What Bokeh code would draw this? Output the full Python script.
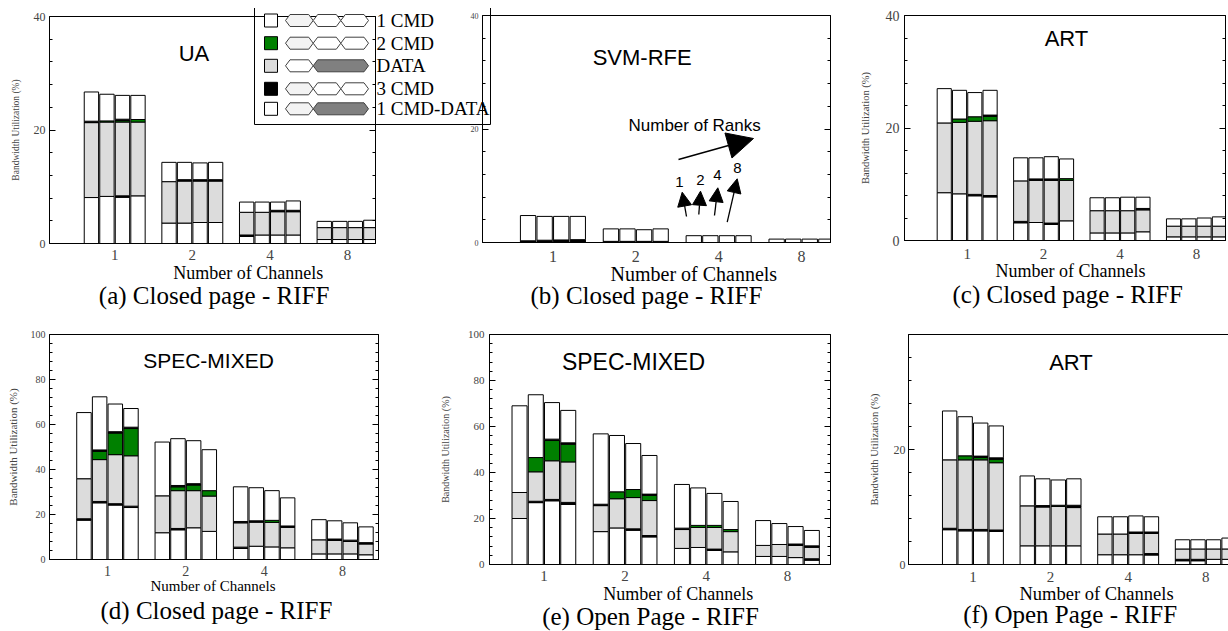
from bokeh.plotting import figure
from bokeh.layouts import column
from bokeh.models import (FixedTicker, LinearAxis, Label, Arrow, NormalHead,
                          Range1d, ColumnDataSource, Title)
from bokeh.embed import file_html
from bokeh.resources import INLINE
from bokeh.core.properties import value

# ---------------------------------------------------------------- data
CHANNELS = ["1", "2", "4", "8"]
SERIES = ["1 CMD", "2 CMD", "DATA", "3 CMD", "1 CMD-DATA"]
RANKS = ["1", "2", "4", "8"]

# (a) UA, closed page
A_TOTAL = [26.7, 26.3, 26.1, 26.1, 14.3, 14.3, 14.2, 14.3, 7.3, 7.3, 7.3, 7.5, 3.9, 3.9, 3.9, 4.1]
A_DATA_FROM = [8.1, 8.3, 8.4, 8.4, 3.6, 3.6, 3.7, 3.7, 1.5, 1.5, 1.5, 1.5, 0.7, 0.7, 0.7, 0.7]
A_DATA_TO = [21.3, 21.4, 21.4, 21.4, 10.9, 11.0, 11.0, 11.0, 5.5, 5.5, 5.6, 5.6, 2.8, 2.8, 2.8, 2.8]
A_CMD2 = [0, 0.2, 0.25, 0.45, 0, 0, 0, 0, 0, 0, 0, 0, 0, 0, 0, 0]
A_CMD3_LO = [0, 0, 0.25, 0, 0, 0, 0, 0, 0.25, 0, 0, 0, 0, 0, 0, 0]
A_CMD3_HI = [0.25, 0, 0.25, 0, 0, 0.25, 0.25, 0.25, 0, 0, 0.25, 0.25, 0, 0, 0, 0]

# (b) SVM-RFE, closed page
B_TOTAL = [4.75, 4.6, 4.6, 4.6, 2.4, 2.4, 2.25, 2.4, 1.2, 1.2, 1.2, 1.2, 0.6, 0.6, 0.6, 0.6]
B_DATA_FROM = [0.3, 0.4, 0.45, 0.5, 0.2, 0.2, 0.2, 0.2, 0, 0, 0, 0, 0, 0, 0, 0]
B_DATA_TO = [0.3, 0.4, 0.45, 0.5, 0.2, 0.2, 0.2, 0.2, 0, 0, 0, 0, 0, 0, 0, 0]
B_CMD2 = [0] * 16
B_CMD3_LO = [0.15, 0.25, 0.3, 0.45, 0.2, 0.2, 0.2, 0.2, 0, 0, 0, 0, 0, 0, 0, 0]
B_CMD3_HI = [0] * 16

# (c) ART, closed page
C_TOTAL = [27.0, 26.7, 26.3, 26.7, 14.7, 14.7, 14.9, 14.5, 7.6, 7.6, 7.7, 7.7, 3.85, 3.85, 4.0, 4.2]
C_DATA_FROM = [8.5, 8.3, 8.2, 8.0, 3.4, 3.2, 3.1, 3.5, 1.35, 1.35, 1.35, 1.55, 0.65, 0.65, 0.65, 0.65]
C_DATA_TO = [20.9, 21.0, 21.2, 21.3, 10.6, 10.7, 10.7, 10.7, 5.3, 5.3, 5.3, 5.45, 2.55, 2.55, 2.55, 2.55]
C_CMD2 = [0, 0.6, 0.8, 0.75, 0, 0, 0, 0.3, 0, 0, 0, 0, 0, 0, 0, 0]
C_CMD3_LO = [0, 0, 0.25, 0.25, 0.25, 0, 0.25, 0, 0, 0, 0, 0, 0, 0, 0, 0]
C_CMD3_HI = [0, 0, 0, 0.25, 0, 0.25, 0.25, 0, 0, 0, 0, 0.25, 0, 0, 0, 0]

# (d) SPEC-MIXED, closed page
D_TOTAL = [65.3, 72.3, 69.1, 67.1, 52.2, 53.7, 52.8, 48.8, 32.3, 31.9, 30.6, 27.4, 17.7, 17.2, 16.3, 14.5]
D_DATA_FROM = [18.1, 25.8, 24.8, 23.7, 11.9, 13.8, 14.1, 12.5, 5.5, 5.9, 5.6, 5.2, 2.5, 2.5, 2.5, 2.1]
D_DATA_TO = [35.9, 44.4, 46.6, 46.1, 28.3, 30.6, 30.6, 28.2, 16.3, 16.6, 16.5, 14.3, 8.75, 8.5, 8.0, 6.9]
D_CMD2 = [0, 3.7, 9.6, 12.1, 0, 1.7, 2.5, 2.4, 0, 0, 0.9, 0, 0, 0, 0, 0]
D_CMD3_LO = [0.6, 0.6, 0.6, 0.6, 0, 0.6, 0, 0, 0.6, 0, 0, 0, 0, 0, 0, 0]
D_CMD3_HI = [0, 0.6, 0.6, 0.6, 0, 0.6, 0.6, 0, 0.6, 0.6, 0, 0.6, 0, 0.6, 0.6, 0.6]

# (e) SPEC-MIXED, open page
E_TOTAL = [69.0, 73.8, 70.4, 67.0, 56.8, 56.1, 52.6, 47.4, 34.8, 33.3, 30.9, 27.4, 19.1, 17.8, 16.5, 14.8]
E_DATA_FROM = [20.0, 27.5, 28.3, 27.0, 14.3, 15.9, 15.5, 12.6, 7.0, 7.4, 6.7, 5.5, 3.5, 3.5, 3.0, 2.5]
E_DATA_TO = [31.3, 40.3, 45.1, 44.6, 25.6, 28.6, 29.1, 27.8, 15.2, 16.1, 16.1, 14.3, 8.3, 8.7, 8.3, 7.5]
E_CMD2 = [0, 6.2, 8.8, 7.7, 0, 3.0, 3.5, 2.2, 0, 0.9, 0.9, 0.9, 0, 0, 0, 0]
E_CMD3_LO = [0, 0.6, 0.6, 0.9, 0, 0, 0.6, 0.6, 0, 0, 0.6, 0, 0, 0, 0, 0.6]
E_CMD3_HI = [0, 0, 0.6, 0.6, 0.6, 0, 0, 0.6, 0.6, 0, 0, 0, 0, 0, 0.6, 0.6]

# (f) ART, open page
F_TOTAL = [26.7, 25.7, 24.6, 24.1, 15.4, 14.9, 14.7, 14.9, 8.3, 8.3, 8.45, 8.3, 4.3, 4.3, 4.3, 4.6]
F_DATA_FROM = [6.3, 6.1, 6.1, 6.0, 3.25, 3.25, 3.25, 3.25, 1.7, 1.7, 1.7, 1.9, 0.9, 0.9, 0.9, 0.9]
F_DATA_TO = [18.2, 18.2, 18.2, 17.7, 10.2, 10.0, 10.1, 9.9, 5.3, 5.3, 5.4, 5.4, 2.7, 2.7, 2.7, 2.7]
F_CMD2 = [0, 0.7, 0.4, 0.6, 0, 0, 0.2, 0, 0, 0, 0, 0, 0, 0, 0, 0]
F_CMD3_LO = [0.25, 0.25, 0.25, 0.25, 0, 0, 0, 0, 0, 0, 0, 0.25, 0.25, 0.25, 0, 0]
F_CMD3_HI = [0, 0, 0.25, 0.25, 0, 0.25, 0, 0.4, 0, 0, 0.25, 0.25, 0, 0, 0, 0]

# ---------------------------------------------------------------- style / layout
SERIF = "Liberation Serif"
SANS = "Liberation Sans"
MB_L, MB_R, MB_T, MB_B = 70, 12, 12, 100
PITCH, BAR_W = 0.2, 0.185
WHITE, GRAY, GREEN, BLACK = "#ffffff", "#dcdcdc", "#008000", "#000000"
PAGE = 8

# xtitle = (left x on page, font size, standoff); cpos = (left x on page, standoff)
SPECS = {
    "a": dict(fl=49, ft=16, fw=326, fh=227, ymax=40, off=0.14, title="UA", tpos=(193.5, 53), tsize=22,
              ylab=True, ylsize=9.5, ylstand=10, tick=12, tstand=4, xt=15, xtst=0,
              xtitle=(172.7, 18, -4), cap="(a) Closed page - RIFF", cpos=(98.3, -1)),
    "b": dict(fl=482, ft=15, fw=348, fh=227, ymax=40, off=0.15, title="SVM-RFE", tpos=(641.7, 56.7), tsize=22,
              ylab=False, ylsize=9.5, ylstand=10, tick=8, tstand=4, xt=16, xtst=2,
              xtitle=(610, 20, -8), cap="(b) Closed page - RIFF", cpos=(530, -1)),
    "c": dict(fl=904, ft=15, fw=321, fh=225, ymax=40, off=0.12, title="ART", tpos=(1066, 38), tsize=22,
              ylab=True, ylsize=10.5, ylstand=12, tick=14, tstand=5, xt=15, xtst=2,
              xtitle=(995, 18, -5), cap="(c) Closed page - RIFF", cpos=(952, 1)),
    "d": dict(fl=49, ft=334, fw=329, fh=225, ymax=100, off=0.04, title="SPEC-MIXED", tpos=(208, 360), tsize=21,
              ylab=True, ylsize=11, ylstand=9, tick=10, tstand=4, xt=14, xtst=0,
              xtitle=(150, 15, -5), cap="(d) Closed page - RIFF", cpos=(100, 6)),
    "e": dict(fl=489, ft=334, fw=341, fh=230, ymax=100, off=-0.03, title="SPEC-MIXED", tpos=(633, 361), tsize=23,
              ylab=True, ylsize=10, ylstand=14, tick=11, tstand=5, xt=15, xtst=0,
              xtitle=(602.7, 18, -3), cap="(e) Open Page - RIFF", cpos=(541.7, -4)),
    "f": dict(fl=908, ft=334, fw=326, fh=230, ymax=40, off=0.13, title="ART", tpos=(1070.5, 362), tsize=22,
              ylab=True, ylsize=10.5, ylstand=11, tick=12, tstand=3, xt=15, xtst=1,
              xtitle=(1019, 18.5, -5), cap="(f) Open Page - RIFF", cpos=(962.7, -5), hide_top=True),
}


def make_panel(s, total, d_from, d_to, cmd2, k_lo, k_hi):
    x0, x1 = 0.3 - s["off"], 4.5 - s["off"]
    ymax = s["ymax"]
    p = figure(x_range=Range1d(x0, x1), y_range=Range1d(0, ymax),
               frame_width=s["fw"], frame_height=s["fh"],
               min_border_left=MB_L, min_border_right=MB_R,
               min_border_top=MB_T, min_border_bottom=MB_B,
               x_axis_type=None, y_axis_type=None,
               output_backend="svg", toolbar_location=None)
    p.outline_line_color = "black"
    p.outline_line_alpha = 1
    p.outline_line_width = 1
    p.background_fill_color = None
    p.border_fill_color = None

    n = len(total)
    xs = [g + 1 + (r - 1.5) * PITCH for g in range(len(CHANNELS)) for r in range(4)]
    w_top = [d_from[i] - k_lo[i] for i in range(n)]
    g_top = [d_to[i] + cmd2[i] for i in range(n)]
    k_top = [g_top[i] + k_hi[i] for i in range(n)]
    segs = [
        ([0] * n, w_top, WHITE),
        (w_top, d_from, BLACK),
        (d_from, d_to, GRAY),
        (d_to, g_top, GREEN),
        (g_top, k_top, BLACK),
        (k_top, total, WHITE),
    ]
    for bot, top, col in segs:
        idx = [i for i in range(n) if top[i] - bot[i] > 1e-9]
        src = ColumnDataSource(dict(x=[xs[i] for i in idx], b=[bot[i] for i in idx],
                                    t=[top[i] for i in idx]))
        p.vbar(x="x", bottom="b", top="t", width=BAR_W, source=src,
               fill_color=col, line_color="black", line_width=1)

    yt = list(range(0, ymax + 1, 20))
    ym = [v for v in range(0, ymax + 1, 4) if v % 20]
    over = {40: ""} if s.get("hide_top") else {}
    left = LinearAxis(ticker=FixedTicker(ticks=yt, minor_ticks=ym), major_label_overrides=over)
    left.axis_line_color = "black"
    left.major_tick_in = 6
    left.major_tick_out = 0
    left.minor_tick_in = 3
    left.minor_tick_out = 0
    left.major_label_text_font = SERIF
    left.major_label_text_font_size = f"{s['tick']}px"
    left.major_label_standoff = s["tstand"]
    if s["ylab"]:
        left.axis_label = "Bandwidth Utilization (%)"
        left.axis_label_text_font = SERIF
        left.axis_label_text_font_style = "normal"
        left.axis_label_text_font_size = f"{s['ylsize']}px"
        left.axis_label_standoff = s["ylstand"]
    p.add_layout(left, "left")

    right = LinearAxis(ticker=FixedTicker(ticks=yt, minor_ticks=ym),
                       major_label_overrides={v: "" for v in yt})
    right.axis_line_color = "black"
    right.major_tick_in = 6
    right.major_tick_out = 0
    right.minor_tick_in = 3
    right.minor_tick_out = 0
    right.major_label_text_alpha = 0
    right.major_label_text_font_size = "1px"
    right.major_label_standoff = 0
    p.add_layout(right, "right")

    bottom = LinearAxis(ticker=FixedTicker(ticks=[i + 1 for i in range(len(CHANNELS))]),
                        major_label_overrides={i + 1: c for i, c in enumerate(CHANNELS)})
    bottom.axis_line_color = "black"
    bottom.major_tick_line_color = None
    bottom.minor_tick_line_color = None
    bottom.major_label_text_font = SERIF
    bottom.major_label_text_font_size = f"{s['xt']}px"
    bottom.major_label_standoff = s["xtst"]
    p.add_layout(bottom, "below")

    xt_x, xt_size, xt_stand = s["xtitle"]
    p.add_layout(Title(text="Number of Channels", align="left", offset=xt_x - s["fl"],
                       text_font=SERIF, text_font_size=f"{xt_size}px",
                       text_font_style="normal", text_color="black",
                       standoff=xt_stand), "below")
    cap_x, cap_stand = s["cpos"]
    p.add_layout(Title(text=s["cap"], align="left", offset=cap_x - s["fl"],
                       text_font=SERIF, text_font_size="25px",
                       text_font_style="normal", text_color="black",
                       standoff=cap_stand), "below")

    def at(px, py):
        return (x0 + (px - s["fl"]) / s["fw"] * (x1 - x0),
                (s["ft"] + s["fh"] - py) / s["fh"] * ymax)

    tx, ty = at(*s["tpos"])
    p.add_layout(Label(x=tx, y=ty, text=s["title"], text_font=SANS,
                       text_font_size=f"{s['tsize']}px", text_align="center",
                       text_baseline="middle", text_color="black"))
    p.styles = {"position": "absolute",
                "left": f"{s['fl'] - MB_L - PAGE}px",
                "top": f"{s['ft'] - MB_T - PAGE}px"}
    return p, at


pa, _ = make_panel(SPECS["a"], A_TOTAL, A_DATA_FROM, A_DATA_TO, A_CMD2, A_CMD3_LO, A_CMD3_HI)
pb, at_b = make_panel(SPECS["b"], B_TOTAL, B_DATA_FROM, B_DATA_TO, B_CMD2, B_CMD3_LO, B_CMD3_HI)
pc, _ = make_panel(SPECS["c"], C_TOTAL, C_DATA_FROM, C_DATA_TO, C_CMD2, C_CMD3_LO, C_CMD3_HI)
pd, _ = make_panel(SPECS["d"], D_TOTAL, D_DATA_FROM, D_DATA_TO, D_CMD2, D_CMD3_LO, D_CMD3_HI)
pe, _ = make_panel(SPECS["e"], E_TOTAL, E_DATA_FROM, E_DATA_TO, E_CMD2, E_CMD3_LO, E_CMD3_HI)
pf, _ = make_panel(SPECS["f"], F_TOTAL, F_DATA_FROM, F_DATA_TO, F_CMD2, F_CMD3_LO, F_CMD3_HI)

# ---- "Number of Ranks" annotation in panel (b)
lx, ly = at_b(628, 125)
pb.add_layout(Label(x=lx, y=ly, text="Number of Ranks", text_font=SANS, text_font_size="17px",
                    text_align="left", text_baseline="middle", text_color="black"))
sx, sy = at_b(678, 159)
ex, ey = at_b(753, 138)
pb.add_layout(Arrow(end=NormalHead(size=26, fill_color="black", line_color="black"),
                    x_start=sx, y_start=sy, x_end=ex, y_end=ey, line_width=1.5, line_color="black"))
rank_lbl = [(679, 181), (700, 179), (717, 174), (737, 167)]
rank_arr = [((686, 216), (681.7, 191.7)), ((698.3, 214), (700, 190.7)),
            ((714, 215), (717.3, 187.3)), ((726.7, 221.7), (736.7, 178.3))]
for t, (px, py), (a0, a1) in zip(RANKS, rank_lbl, rank_arr):
    qx, qy = at_b(px, py)
    pb.add_layout(Label(x=qx, y=qy, text=t, text_font=SANS, text_font_size="15px",
                        text_align="center", text_baseline="middle", text_color="black"))
    s0x, s0y = at_b(*a0)
    s1x, s1y = at_b(*a1)
    pb.add_layout(Arrow(end=NormalHead(size=14, fill_color="black", line_color="black"),
                        x_start=s0x, y_start=s0y, x_end=s1x, y_end=s1y,
                        line_width=1.3, line_color="black"))

# ---------------------------------------------------------------- legend (overlay)
# The column aligns the left borders of its plots, so the legend uses the same
# left border as the panels and is shifted left by that amount.
LW, LH = 236, 119
EXTRA = 40
leg = figure(x_range=Range1d(-2, LW + EXTRA), y_range=Range1d(LH + 2, -2),
             frame_width=LW + EXTRA + 2, frame_height=LH + 4,
             min_border_left=MB_L, min_border_right=MB_R,
             min_border_top=0, min_border_bottom=0,
             x_axis_type=None, y_axis_type=None,
             output_backend="svg", toolbar_location=None)
leg.outline_line_color = None
leg.background_fill_color = None
leg.border_fill_color = None
leg.quad(left=[0], right=[LW], top=[0], bottom=[LH], fill_color=None,
         line_color="black", line_width=1)
rows = [15, 37.7, 60.3, 83.3, 103.3]
swatch = [WHITE, GREEN, GRAY, BLACK, WHITE]
leg.quad(left=[10] * 5, right=[23] * 5, top=[r - 6.5 for r in rows],
         bottom=[r + 6.5 for r in rows], fill_color=swatch, line_color="black", line_width=1)

LIGHT, DARK = "#f3f3f3", "#808080"
patterns = [
    [(31, 58.7, LIGHT), (58.7, 86.3, WHITE), (86.3, 114, WHITE)],
    [(31, 58.7, LIGHT), (58.7, 86.3, WHITE), (86.3, 114, WHITE)],
    [(31, 58.7, WHITE), (58.7, 114, DARK)],
    [(31, 58.7, LIGHT), (58.7, 86.3, WHITE), (86.3, 114, WHITE)],
    [(31, 58.7, LIGHT), (58.7, 114, DARK)],
]
hx, hy, hc = [], [], []
for r, pat in zip(rows, patterns):
    for a0, a1, col in pat:
        d, h = 4.5, 6
        hx.append([a0, a0 + d, a1 - d, a1, a1 - d, a0 + d])
        hy.append([r, r - h, r - h, r, r + h, r + h])
        hc.append(col)
leg.patches(xs=hx, ys=hy, fill_color=hc, line_color="#404040", line_width=1)
leg.text(x=[122] * 5, y=rows, text=SERIES, text_font=value(SERIF), text_font_size="19px",
         text_baseline="middle", text_align="left", text_color="black")
leg.styles = {"position": "absolute",
              "left": f"{254 - 2 - MB_L - PAGE}px", "top": f"{5 - 2 - PAGE}px"}

root = column(pa, pb, pc, pd, pe, pf, leg, width=1220, height=623,
              styles={"position": "absolute", "left": "8px", "top": "8px",
                      "overflow": "hidden", "width": "1220px", "height": "623px"})

open("out.html", "w").write(file_html(root, INLINE))
